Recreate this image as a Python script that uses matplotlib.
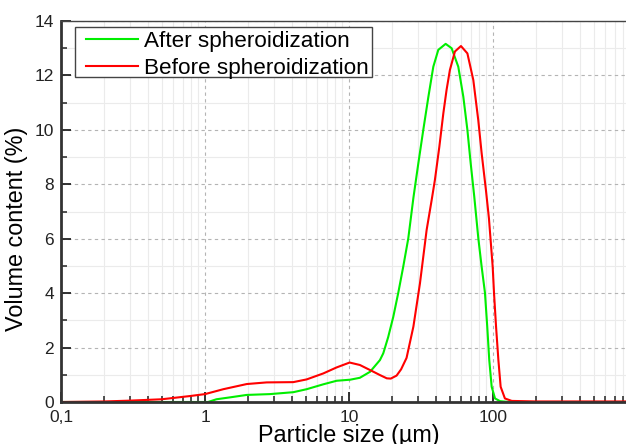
import numpy as np
import matplotlib.pyplot as plt
from matplotlib.patches import Rectangle
from matplotlib.ticker import LogLocator, FixedLocator, NullFormatter, MultipleLocator

plt.rcParams['font.family'] = ['Liberation Sans', 'DejaVu Sans']

# particle size (um) and volume content (%)
size_after = [0.1, 0.5, 1.0, 1.05, 1.2, 1.49, 1.95, 2.82, 4.1, 5.08, 6.63, 8.2, 10.2, 11.9, 14.0,
              16.4, 17.3, 18.7, 20.3, 22.0, 23.8, 25.8, 28.0, 30.3, 32.8, 35.6, 38.5, 41.7,
              46.9, 51.6, 57.4, 62.2, 66.4, 70.0, 74.1, 79.1, 83.4, 87.9, 91.2, 94.2, 97.9,
              103.3, 112, 130, 200, 1000]
vol_after = [0.0, 0.0, 0.0, 0.0, 0.1, 0.17, 0.26, 0.29, 0.36, 0.47, 0.65, 0.78, 0.82, 0.89, 1.11,
             1.54, 1.79, 2.38, 3.13, 4.02, 4.97, 6.01, 7.5, 8.77, 10.0, 11.22, 12.32, 12.94,
             13.16, 13.0, 12.32, 11.22, 10.0, 8.77, 7.55, 6.01, 4.97, 4.02, 2.77, 1.54, 0.56,
             0.13, 0.03, 0.0, 0.0, 0.0]

size_before = [0.1, 0.2, 0.3, 0.5, 0.79, 1.0, 1.34, 1.95, 2.68, 4.1, 5.08, 6.63, 8.2, 10.1,
               11.9, 14.8, 16.4, 18.3, 19.5, 21.4, 23.0, 25.1, 28.0, 31.1, 34.6, 37.5, 39.5,
               42.4, 45.2, 47.6, 50.2, 54.4, 59.9, 66.4, 73.0, 79.0, 83.4, 89.3, 93.7, 99.5,
               101.6, 105, 109, 113, 121, 135, 200, 1000]
vol_before = [0.0, 0.02, 0.05, 0.1, 0.22, 0.29, 0.47, 0.66, 0.72, 0.73, 0.83, 1.05, 1.27, 1.45,
              1.36, 1.11, 0.99, 0.87, 0.86, 0.97, 1.2, 1.62, 2.77, 4.36, 6.32, 7.42, 8.16,
              9.38, 10.61, 11.47, 12.2, 12.88, 13.08, 12.81, 11.83, 10.36, 9.14, 7.79, 6.75, 4.97,
              4.02, 2.77, 1.54, 0.56, 0.13, 0.04, 0.02, 0.02]

W, H = 626, 444
fig = plt.figure(figsize=(W / 100, H / 100), dpi=100)
ax = fig.add_axes([61 / W, 42 / H, 576 / W, 381 / H])

ax.plot(size_after, vol_after, color='#00ee00', lw=1.5, label='After spheroidization')
ax.plot(size_before, vol_before, color='#ff0000', lw=1.5, label='Before spheroidization')

ax.set_xscale('log')
ax.set_xlim(0.1, 1000)
ax.set_ylim(0, 14)
ax.xaxis.set_major_locator(FixedLocator([0.1, 1, 10, 100]))
ax.set_xticklabels(['0,1', '1', '10', '100'])
ax.xaxis.set_minor_locator(LogLocator(base=10, subs=np.arange(2, 10)))
ax.xaxis.set_minor_formatter(NullFormatter())
ax.yaxis.set_major_locator(MultipleLocator(2))
ax.yaxis.set_minor_locator(MultipleLocator(1))

ax.grid(which='major', color='#b4b4b4', ls=(0, (3, 3)), lw=0.8)
ax.grid(which='minor', color='#ebebeb', ls='-', lw=0.8)
ax.set_axisbelow(True)

ax.tick_params(which='both', direction='in', top=False, right=False, labelsize=12.5, colors='#222222')
ax.tick_params(which='major', length=7, width=1.3)
ax.tick_params(which='minor', length=4, width=1.1)
ax.tick_params(axis='x', pad=6)
ax.tick_params(axis='y', pad=5)
for s in ['left', 'bottom']:
    ax.spines[s].set_linewidth(2.0)
    ax.spines[s].set_color('#333333')
ax.spines['top'].set_linewidth(1.0)
ax.spines['top'].set_color('#444444')
ax.spines['right'].set_visible(False)

ax.set_xlabel('Particle size (µm)', fontsize=16.8)
ax.set_ylabel('Volume content (%)', fontsize=16.8)
ax.xaxis.set_label_coords(0.5, -0.058)
ax.yaxis.set_label_coords(-0.057, 0.454)

# legend frame drawn separately so the handles can sit further in
frame = Rectangle((75 / W, 1 - 77 / H), 297 / W, 50 / H, transform=fig.transFigure,
                  facecolor='white', edgecolor='#444444', lw=1.0, zorder=4, clip_on=False)
ax.add_artist(frame)
leg = ax.legend(loc='upper left', bbox_to_anchor=(86 / W, 1 - 31 / H),
                bbox_transform=fig.transFigure, fontsize=16.2, frameon=False,
                handlelength=2.3, borderpad=0, labelspacing=0.25, handletextpad=0.27,
                borderaxespad=0)
leg.set_zorder(5)

fig.savefig('out.png', dpi=100)
